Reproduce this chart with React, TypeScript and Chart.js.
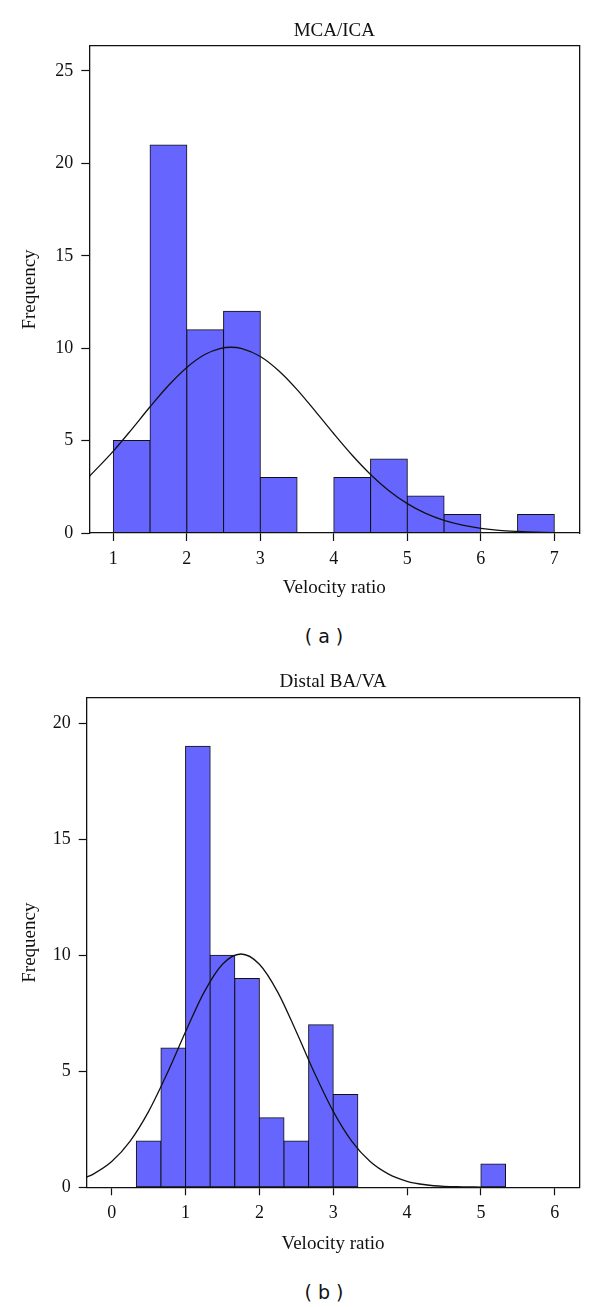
import React, { useEffect, useRef } from "react";
import { Chart, registerables } from "chart.js";

Chart.register(...registerables);

// ---------- Panel (a): MCA/ICA ----------
const titleA = "MCA/ICA";
const binCentersA = [1.25, 1.75, 2.25, 2.75, 3.25, 3.75, 4.25, 4.75, 5.25, 5.75, 6.25, 6.75];
const countsA = [5, 21, 11, 12, 3, 0, 3, 4, 2, 1, 0, 1];
const curveXA = [0.673, 1.0, 1.25, 1.5, 1.75, 2.0, 2.25, 2.45, 2.6, 2.75, 3.0, 3.25, 3.5, 3.75, 4.0, 4.25, 4.5, 4.75, 5.0, 5.25, 5.5, 5.75, 6.0, 6.25, 6.5, 6.75, 7.0, 7.25];
const curveYA = [3.06, 4.43, 5.61, 6.83, 7.98, 8.96, 9.67, 9.98, 10.05, 9.98, 9.55, 8.78, 7.76, 6.58, 5.37, 4.21, 3.17, 2.29, 1.59, 1.06, 0.68, 0.42, 0.25, 0.14, 0.08, 0.04, 0.02, 0.01];
const xTicksA = [1, 2, 3, 4, 5, 6, 7];
const yTicksA = [0, 5, 10, 15, 20, 25];

// ---------- Panel (b): Distal BA/VA ----------
const titleB = "Distal BA/VA";
const binCentersB = [0.5, 0.8333, 1.1667, 1.5, 1.8333, 2.1667, 2.5, 2.8333, 3.1667, 3.5, 3.8333, 4.1667, 4.5, 4.8333, 5.1667];
const countsB = [2, 6, 19, 10, 9, 3, 2, 7, 4, 0, 0, 0, 0, 0, 1];
const curveXB = [-0.339, -0.25, 0.0, 0.25, 0.5, 0.75, 1.0, 1.25, 1.5, 1.75, 2.0, 2.25, 2.5, 2.75, 3.0, 3.25, 3.5, 3.75, 4.0, 4.25, 4.5, 4.75, 5.0];
const curveYB = [0.44, 0.57, 1.11, 1.99, 3.27, 4.9, 6.7, 8.4, 9.61, 10.05, 9.61, 8.4, 6.7, 4.9, 3.27, 1.99, 1.11, 0.57, 0.26, 0.11, 0.04, 0.02, 0.01];
const xTicksB = [0, 1, 2, 3, 4, 5, 6];
const yTicksB = [0, 5, 10, 15, 20];

const xAxisTitle = "Velocity ratio";
const yAxisTitle = "Frequency";

const SERIF = "'Liberation Serif', 'Times New Roman', serif";
const INK = "#111";

type PanelProps = {
  top: number;
  height: number;
  title: string;
  centers: number[];
  counts: number[];
  curveX: number[];
  curveY: number[];
  xTicks: number[];
  yTicks: number[];
  xMin: number;
  xMax: number;
  yMax: number;
  yAxisWidth: number;
  xAxisHeight: number;
  titlePadTop: number;
  titlePadBottom: number;
  xTitlePadBottom: number;
};

function Panel(p: PanelProps) {
  const ref = useRef<HTMLCanvasElement | null>(null);

  useEffect(() => {
    if (!ref.current) return;
    const tickFont = { family: SERIF, size: 18 };
    const axisTitleFont = { family: SERIF, size: 19 };
    const frameAxis = (pos: "top" | "right") => ({
      type: "linear" as const,
      position: pos,
      display: true,
      ticks: { display: false },
      grid: { display: false, drawTicks: false, drawOnChartArea: false },
      border: { display: true, color: INK, width: 1.3 },
      afterFit: (s: any) => {
        if (pos === "top") s.height = 0;
        else s.width = 0;
      },
    });

    const chart = new Chart(ref.current, {
      type: "bar",
      data: {
        datasets: [
          {
            type: "line",
            data: p.curveX.map((x, i) => ({ x, y: p.curveY[i] })),
            borderColor: INK,
            borderWidth: 1.3,
            pointRadius: 0,
            fill: false,
            cubicInterpolationMode: "monotone",
            xAxisID: "x",
            yAxisID: "y",
            order: 0,
          } as any,
          {
            type: "bar",
            data: p.centers.map((x, i) => ({ x, y: p.counts[i] })),
            backgroundColor: "#6666ff",
            borderColor: INK,
            borderWidth: 1,
            borderSkipped: false,
            inflateAmount: 0.5,
            barPercentage: 1,
            categoryPercentage: 1,
            xAxisID: "x",
            yAxisID: "y",
            order: 1,
          } as any,
        ],
      },
      options: {
        responsive: false,
        animation: false,
        devicePixelRatio: 1,
        layout: { padding: { top: 0, left: 0, right: 20.7, bottom: 0 } },
        plugins: {
          legend: { display: false },
          tooltip: { enabled: false },
          title: {
            display: true,
            text: p.title,
            fullSize: false,
            color: INK,
            font: { family: SERIF, size: 19, weight: "normal", lineHeight: 1 },
            padding: { top: p.titlePadTop, bottom: p.titlePadBottom },
          },
        },
        scales: {
          x: {
            type: "linear",
            position: "bottom",
            min: p.xMin,
            max: p.xMax,
            offset: false,
            afterBuildTicks: (s: any) => {
              s.ticks = p.xTicks.map((v) => ({ value: v }));
            },
            afterFit: (s: any) => {
              s.height = p.xAxisHeight;
            },
            ticks: { font: tickFont, color: INK, padding: 7, maxRotation: 0, autoSkip: false },
            grid: {
              display: true,
              offset: false,
              drawOnChartArea: false,
              drawTicks: true,
              tickLength: 8,
              tickColor: INK,
              tickWidth: 1.2,
            },
            border: { display: true, color: INK, width: 1.3 },
            title: {
              display: true,
              text: xAxisTitle,
              color: INK,
              font: axisTitleFont,
              padding: { top: 0, bottom: p.xTitlePadBottom },
            },
          },
          y: {
            type: "linear",
            position: "left",
            min: 0,
            max: p.yMax,
            afterBuildTicks: (s: any) => {
              s.ticks = p.yTicks.map((v) => ({ value: v }));
            },
            afterFit: (s: any) => {
              s.width = p.yAxisWidth;
            },
            ticks: { font: tickFont, color: INK, padding: 8, autoSkip: false },
            grid: {
              display: true,
              drawOnChartArea: false,
              drawTicks: true,
              tickLength: 8,
              tickColor: INK,
              tickWidth: 1.2,
            },
            border: { display: true, color: INK, width: 1.3 },
            title: {
              display: true,
              text: yAxisTitle,
              color: INK,
              font: axisTitleFont,
              padding: { top: 18.6, bottom: 0 },
            },
          },
          x2: frameAxis("top") as any,
          y2: frameAxis("right") as any,
        },
      } as any,
    });
    return () => chart.destroy();
  }, []);

  return (
    <canvas
      ref={ref}
      width={600}
      height={p.height}
      style={{ position: "absolute", left: 0, top: p.top, width: 600, height: p.height, display: "block" }}
    />
  );
}

const captionStyle = (top: number): React.CSSProperties => ({
  position: "absolute",
  left: 224,
  top,
  width: 200,
  textAlign: "center",
  fontFamily: "'DejaVu Sans', sans-serif",
  fontSize: 19,
  lineHeight: "20px",
  color: INK,
  whiteSpace: "pre",
});

export default function App() {
  return (
    <div
      style={{
        position: "absolute",
        left: 0,
        top: 0,
        width: 600,
        height: 1307,
        overflow: "hidden",
        background: "#fff",
      }}
    >
      <Panel
        top={0}
        height={610}
        title={titleA}
        centers={binCentersA}
        counts={countsA}
        curveX={curveXA}
        curveY={curveYA}
        xTicks={xTicksA}
        yTicks={yTicksA}
        xMin={0.673}
        xMax={7.34}
        yMax={26.35}
        yAxisWidth={89.3}
        xAxisHeight={77}
        titlePadTop={21.5}
        titlePadBottom={5.5}
        xTitlePadBottom={10.6}
      />
      <div style={captionStyle(626)}>( a )</div>
      <Panel
        top={650}
        height={610}
        title={titleB}
        centers={binCentersB}
        counts={countsB}
        curveX={curveXB}
        curveY={curveYB}
        xTicks={xTicksB}
        yTicks={yTicksB}
        xMin={-0.339}
        xMax={6.333}
        yMax={21.08}
        yAxisWidth={86.7}
        xAxisHeight={72.7}
        titlePadTop={22.5}
        titlePadBottom={6.5}
        xTitlePadBottom={4.6}
      />
      <div style={captionStyle(1282)}>( b )</div>
    </div>
  );
}
